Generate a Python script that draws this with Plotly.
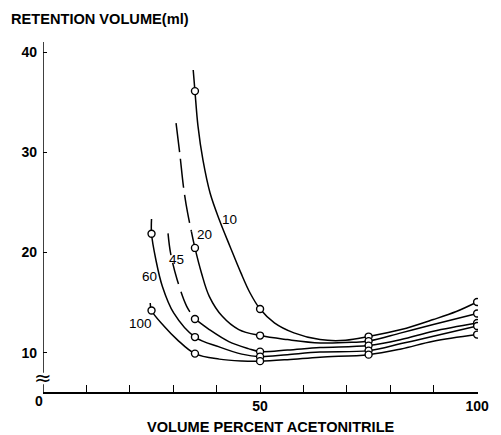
import plotly.graph_objects as go

# ---------------- data ----------------
acetonitrile = [25, 35, 50, 75, 100]          # measured compositions (%)
series_names = ["10", "20", "45", "60", "100"]

# measured retention volumes (ml), None = not measured
meas_10  = [None, 36.1, 14.35, 11.6, 15.05]
meas_20  = [None, 20.45, 11.7, 11.15, 13.9]
meas_45  = [None, 13.36, 10.1, 10.7, 12.95]
meas_60  = [21.86, 11.55, 9.6, 10.2, 12.65]
meas_100 = [14.2, 9.9, 9.15, 9.8, 11.8]

# hand-drawn curves
c10_x = [34.6, 35, 35.7, 36.85, 38.5, 40.7, 43.1, 45.56, 47.7, 50, 53.3, 57.8, 63.8, 69.7, 75, 82.5, 89.9, 95.2, 100]
c10_y = [38.2, 36.1, 32.6, 29.2, 25.9, 23.16, 20.57, 17.98, 15.95, 14.35, 12.97, 11.97, 11.3, 11.23, 11.6, 12.3, 13.3, 14.1, 15.05]

c20_dash_x = [30.65, 31.5, 32.4, 33.3, 34.2]
c20_dash_y = [32.9, 29.9, 26.4, 23.96, 22.06]
c20_x = [34.2, 35, 36.5, 38.3, 41.3, 45.1, 50, 56.3, 63.8, 71.3, 75, 82.5, 89.9, 100]
c20_y = [22.06, 20.45, 17.95, 15.62, 13.62, 12.3, 11.7, 11.3, 10.97, 11.03, 11.15, 11.97, 12.8, 13.9]

c45_dash_x = [28.8, 29.4, 30.9, 33.1, 35]
c45_dash_y = [21.9, 19.9, 17.28, 14.62, 13.36]
c45_x = [35, 38.3, 42.8, 47.3, 50, 56.3, 63.8, 75, 82.5, 89.9, 100]
c45_y = [13.36, 12.3, 11.1, 10.4, 10.1, 10.25, 10.5, 10.7, 11.3, 12.13, 12.95]

c60_x = [25.0, 25.0, 26.0, 27.5, 30.1, 35, 40.6, 45.8, 50, 56.3, 63.8, 75, 82.5, 89.9, 100]
c60_y = [23.33, 21.86, 19.27, 16.6, 13.96, 11.55, 10.57, 9.85, 9.6, 9.8, 10.05, 10.2, 10.9, 11.63, 12.65]

c100_x = [24.7, 25.0, 27.9, 30.9, 35, 40.6, 45.8, 50, 56.3, 63.8, 75, 82.5, 89.9, 100]
c100_y = [14.96, 14.2, 12.63, 11.3, 9.9, 9.35, 9.17, 9.15, 9.3, 9.55, 9.8, 10.37, 11.13, 11.8]

# curve label anchor points (data units)
label_x = [43.0, 37.2, 30.86, 24.5, 22.5]
label_y = [23.26, 21.76, 19.34, 17.6, 12.9]

x_ticks = [0, 10, 20, 30, 40, 50, 60, 70, 80, 90, 100]
x_ticktext = ["", "", "", "", "", "50", "", "", "", "", "100"]
y_ticks = [10, 20, 30, 40]

# ---------------- figure ----------------
FONT = "Liberation Sans, Arial, Helvetica, sans-serif"
LINE = dict(color="black", width=1.5, shape="spline", smoothing=1)

fig = go.Figure()

solid_curves = [(c10_x, c10_y), (c20_x, c20_y), (c45_x, c45_y), (c60_x, c60_y), (c100_x, c100_y)]
for cx, cy in solid_curves:
    fig.add_trace(go.Scatter(x=cx, y=cy, mode="lines", line=LINE, hoverinfo="skip", showlegend=False))

fig.add_trace(go.Scatter(x=c20_dash_x, y=c20_dash_y, mode="lines",
                         line=dict(LINE, dash="29px,7px"), hoverinfo="skip", showlegend=False))
fig.add_trace(go.Scatter(x=c45_dash_x, y=c45_dash_y, mode="lines",
                         line=dict(LINE, dash="22px,8px"), hoverinfo="skip", showlegend=False))

for name, vals in zip(series_names, [meas_10, meas_20, meas_45, meas_60, meas_100]):
    fig.add_trace(go.Scatter(x=acetonitrile, y=vals, mode="markers", name=name,
                             marker=dict(symbol="circle", size=7, color="white",
                                         line=dict(color="black", width=1.4)),
                             showlegend=False))

for name, lx, ly in zip(series_names, label_x, label_y):
    fig.add_annotation(x=lx, y=ly, text=name, showarrow=False,
                       xanchor="center", yanchor="middle",
                       font=dict(family=FONT, size=13.5, color="black"))

# y-axis line drawn with a break
fig.add_shape(type="line", x0=0, x1=0, y0=6.07, y1=6.85, xref="x", yref="y",
              line=dict(color="black", width=1.5))
fig.add_shape(type="line", x0=0, x1=0, y0=8.0, y1=41.0, xref="x", yref="y",
              line=dict(color="black", width=1.5))
fig.add_annotation(x=0, y=7.45, text="≈", showarrow=False, xref="x", yref="y",
                   xanchor="center", yanchor="middle",
                   font=dict(family="DejaVu Sans", size=21, color="black"))

fig.add_annotation(x=-0.0101, y=-0.0271, xref="paper", yref="paper", text="<b>0</b>",
                   xanchor="center", yanchor="middle",
                   showarrow=False, font=dict(family=FONT, size=14, color="black"))
fig.add_annotation(x=-0.0773, y=1.0656, xref="paper", yref="paper",
                   xanchor="left", yanchor="middle",
                   text="<b>RETENTION VOLUME(ml)</b>", showarrow=False,
                   font=dict(family=FONT, size=14.6, color="black"))
fig.add_annotation(x=0.523, y=-0.101, xref="paper", yref="paper",
                   xanchor="center", yanchor="middle",
                   text="<b>VOLUME PERCENT ACETONITRILE</b>", showarrow=False,
                   font=dict(family=FONT, size=14.6, color="black"))

fig.update_layout(
    width=501, height=435,
    margin=dict(l=42.5, r=12, t=42, b=42.5),
    paper_bgcolor="white", plot_bgcolor="white",
    font=dict(family=FONT, size=13, color="black"),
    xaxis=dict(range=[0, 100.2], tickmode="array", tickvals=x_ticks, ticktext=x_ticktext,
               ticks="inside", ticklen=7, tickwidth=1.3, tickcolor="black",
               showline=True, linecolor="black", linewidth=1.5,
               showgrid=False, zeroline=False, ticklabelstandoff=0,
               tickfont=dict(family=FONT, size=14, color="black", weight="bold")),
    yaxis=dict(range=[6.07, 41.0], tickmode="array", tickvals=y_ticks,
               ticks="inside", ticklen=4, tickwidth=1.3, tickcolor="black",
               showline=False, showgrid=False, zeroline=False, ticklabelstandoff=5,
               tickfont=dict(family=FONT, size=14, color="black", weight="bold")),
)

fig.write_html("out.html")
